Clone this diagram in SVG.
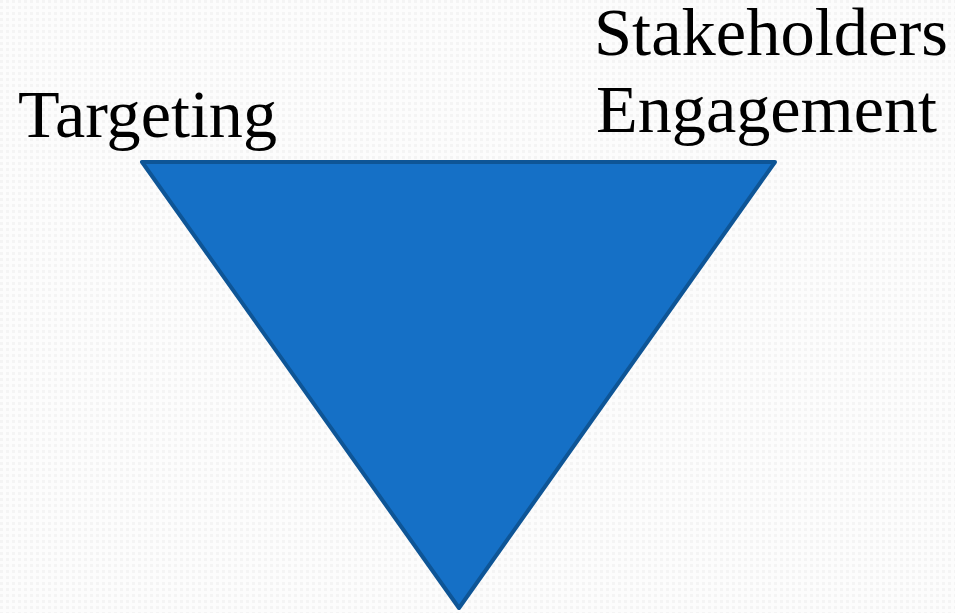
<svg xmlns="http://www.w3.org/2000/svg" width="955" height="613" viewBox="0 0 955 613">
<style>
.lbl{font-family:"Liberation Serif","DejaVu Serif",serif;font-size:67px;fill:#000}
</style>
<defs>
<pattern id="bg" width="6" height="6" patternUnits="userSpaceOnUse">
<rect width="6" height="6" fill="#fcfcfc"/>
<rect x="0" y="0" width="3" height="3" fill="#f4f4f4"/>
</pattern>
</defs>
<rect width="955" height="613" fill="url(#bg)"/>
<g id="triangle">
<polygon points="142,162 775,162 459,608" fill="#1570c6" stroke="#0e5596" stroke-width="4" stroke-linejoin="round"/>
</g>
<g id="label-targeting">
<text class="lbl" x="18" y="137" textLength="259" lengthAdjust="spacingAndGlyphs">Targeting</text>
</g>
<g id="label-stakeholders">
<text class="lbl" x="594" y="55" textLength="354" lengthAdjust="spacingAndGlyphs">Stakeholders</text>
<text class="lbl" x="596" y="132" textLength="341" lengthAdjust="spacingAndGlyphs">Engagement</text>
</g>
<g id="connectors"/>
</svg>
